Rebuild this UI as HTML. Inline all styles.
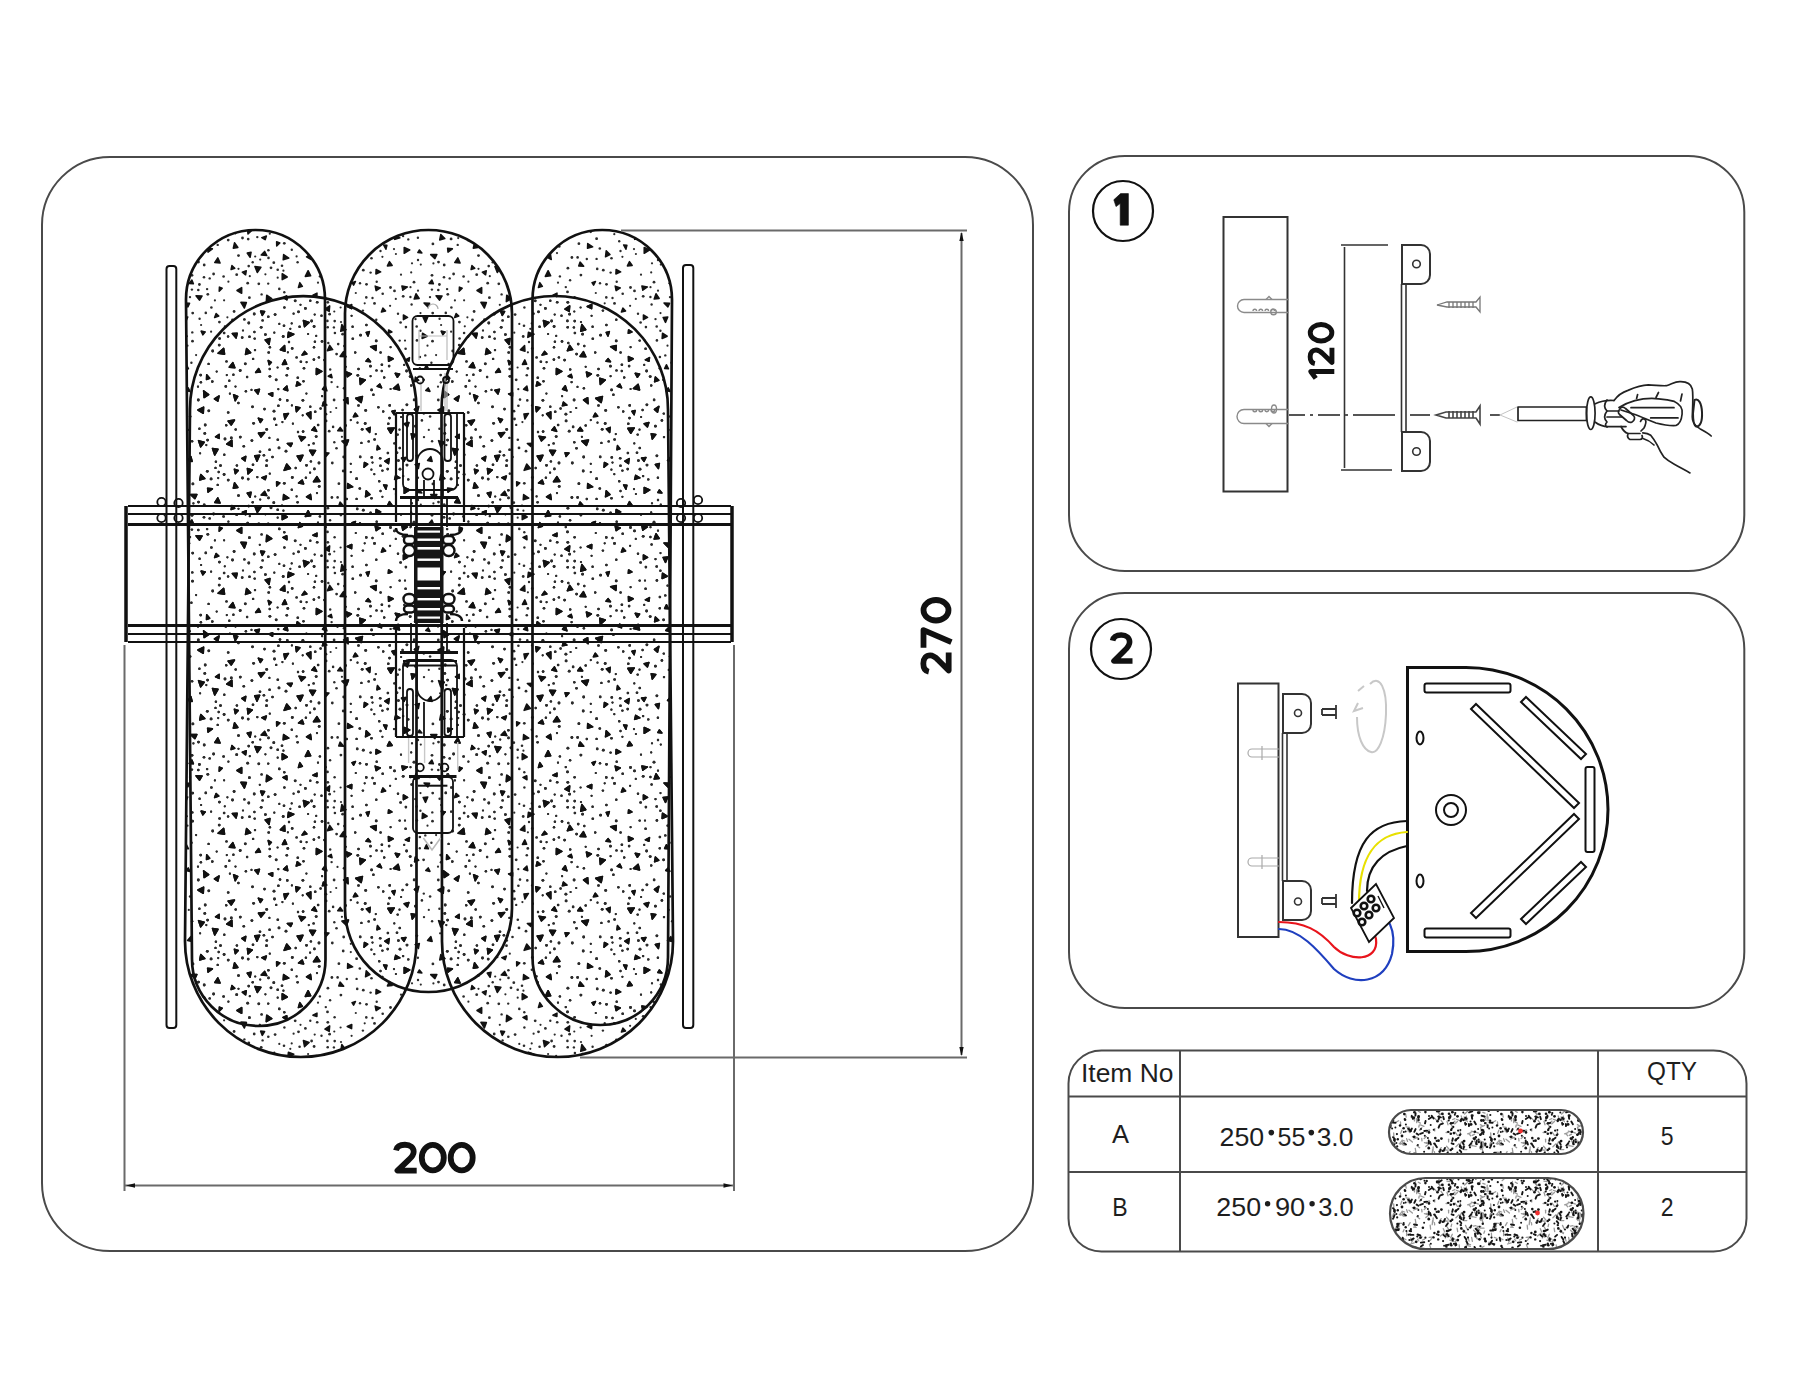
<!DOCTYPE html>
<html><head><meta charset="utf-8"><title>Assembly</title>
<style>
html,body{margin:0;padding:0;background:#fff;width:1800px;height:1400px;overflow:hidden}
svg{display:block}
text{font-family:"Liberation Sans",sans-serif}
</style></head><body>
<svg width="1800" height="1400" viewBox="0 0 1800 1400">
<defs>
<pattern id="sp" width="240" height="240" patternUnits="userSpaceOnUse"><g fill="#2b2b2b"><circle cx="85.9" cy="174.2" r="1.4"/><circle cx="87.9" cy="28.2" r="1.4"/><circle cx="170.2" cy="136.6" r="1.4"/><circle cx="220.5" cy="225.6" r="1.4"/><circle cx="219.2" cy="105.1" r="1.4"/><circle cx="192.7" cy="73.1" r="1.4"/><circle cx="76.2" cy="95.9" r="1.1"/><circle cx="224.3" cy="214.7" r="1.2"/><circle cx="59.6" cy="86.8" r="1.3"/><circle cx="87.7" cy="87.2" r="1.3"/><circle cx="94.9" cy="93" r="1.3"/><circle cx="46.8" cy="135.3" r="1.3"/><circle cx="200.7" cy="135.1" r="1.4"/><circle cx="42.4" cy="182.1" r="1.1"/><circle cx="211.4" cy="67.5" r="1.3"/><circle cx="5.3" cy="123.8" r="1.4"/><circle cx="130.6" cy="136.2" r="1.1"/><circle cx="20.2" cy="19.6" r="1.1"/><circle cx="176.9" cy="215.8" r="1.4"/><circle cx="34.5" cy="179" r="1.4"/><circle cx="155.8" cy="58.9" r="1.1"/><circle cx="52.9" cy="183.7" r="1.1"/><circle cx="125.2" cy="183.5" r="1.4"/><circle cx="94.7" cy="81.1" r="1.3"/><circle cx="118.5" cy="129" r="1.3"/><circle cx="219.6" cy="98.5" r="1.3"/><circle cx="198.3" cy="160" r="1.4"/><circle cx="204.8" cy="193.4" r="1.4"/><circle cx="200.1" cy="213.3" r="1.1"/><circle cx="229.9" cy="153.7" r="1.1"/><circle cx="125.7" cy="170.4" r="1.4"/><circle cx="192.5" cy="101.2" r="1.4"/><circle cx="100.9" cy="35.1" r="1.4"/><circle cx="177.9" cy="-2.2" r="1.2"/><circle cx="177.9" cy="237.8" r="1.2"/><circle cx="90.1" cy="40.2" r="1.2"/><circle cx="49" cy="102" r="1.2"/><circle cx="70.1" cy="232.7" r="1.1"/><circle cx="14.2" cy="74" r="1.4"/><circle cx="15" cy="110.1" r="1.2"/><circle cx="140.2" cy="218.2" r="1.3"/><circle cx="8.7" cy="26.1" r="1.3"/><circle cx="44.3" cy="52.2" r="1.2"/><circle cx="142.7" cy="53.8" r="1.3"/><circle cx="44.4" cy="67.5" r="1.2"/><circle cx="196.1" cy="115.1" r="1.1"/><circle cx="219.4" cy="82.1" r="1.4"/><circle cx="131.4" cy="229.7" r="1.1"/><circle cx="115.8" cy="53" r="1.1"/><circle cx="192.3" cy="92.4" r="1.2"/><circle cx="65.9" cy="-2.3" r="1.2"/><circle cx="65.9" cy="237.7" r="1.2"/><circle cx="89.2" cy="191.2" r="1.4"/><circle cx="171.2" cy="145.5" r="1.2"/><circle cx="37.7" cy="37.7" r="1.1"/><circle cx="77.2" cy="62.3" r="1.3"/><circle cx="208.6" cy="123.9" r="1.2"/><circle cx="64" cy="128.3" r="1.3"/><circle cx="36.2" cy="184.9" r="1.2"/><circle cx="0.3" cy="197.1" r="1.4"/><circle cx="240.3" cy="197.1" r="1.4"/><circle cx="19.8" cy="64.8" r="1.1"/><circle cx="172" cy="23.3" r="1.1"/><circle cx="115.2" cy="112.5" r="1.2"/><circle cx="229.3" cy="140.8" r="1.2"/><circle cx="205.8" cy="72.9" r="1.3"/><circle cx="198.3" cy="50" r="1.3"/><circle cx="130.4" cy="126.2" r="1.4"/><circle cx="37.8" cy="199.7" r="1.3"/><circle cx="74.7" cy="74.6" r="1.1"/><circle cx="25.4" cy="94.6" r="1.4"/><circle cx="110.8" cy="232.1" r="1.1"/><circle cx="3" cy="90.5" r="1.1"/><circle cx="243" cy="90.5" r="1.1"/><circle cx="170.4" cy="57" r="1.2"/><circle cx="2.5" cy="-2" r="1.4"/><circle cx="2.5" cy="238" r="1.4"/><circle cx="242.5" cy="-2" r="1.4"/><circle cx="242.5" cy="238" r="1.4"/><circle cx="191.9" cy="49.6" r="1.2"/><circle cx="90.2" cy="129.5" r="1.2"/><circle cx="71.6" cy="81" r="1.4"/><circle cx="94.1" cy="160" r="1.4"/><circle cx="175.5" cy="79.1" r="1.2"/><circle cx="226.8" cy="135.1" r="1.1"/><circle cx="198.5" cy="22.1" r="1.4"/><circle cx="33.8" cy="22.7" r="1.4"/><circle cx="162.6" cy="170" r="1.2"/><circle cx="43.2" cy="96.5" r="1.4"/><circle cx="200.9" cy="142.3" r="1.2"/><circle cx="21.6" cy="54.4" r="1.2"/><circle cx="37.7" cy="29.8" r="1.3"/><circle cx="97.6" cy="17.4" r="1.3"/><circle cx="184" cy="197.1" r="1.2"/><circle cx="98.9" cy="3.7" r="1.4"/><circle cx="96.2" cy="168" r="1.1"/><circle cx="235.7" cy="189.5" r="1.2"/><circle cx="4.4" cy="79.4" r="1.2"/><circle cx="82.1" cy="156.2" r="1.1"/><circle cx="122.2" cy="189.3" r="1.4"/><circle cx="198" cy="146.7" r="1.1"/><circle cx="216.7" cy="131.6" r="1.1"/><circle cx="84.6" cy="120.1" r="1.4"/><circle cx="34" cy="171.2" r="1.4"/><circle cx="150.5" cy="47.5" r="1.4"/><circle cx="138.4" cy="167.3" r="1.2"/><circle cx="79" cy="223" r="1.4"/><circle cx="29.8" cy="233.7" r="1.1"/><circle cx="32.5" cy="217" r="1.3"/><circle cx="134.5" cy="63.4" r="1.4"/><circle cx="218.2" cy="-1.9" r="1.1"/><circle cx="218.2" cy="238.1" r="1.1"/><circle cx="29.4" cy="197.9" r="1.1"/><circle cx="57.8" cy="137.7" r="1.3"/><circle cx="199.4" cy="44.5" r="1.4"/><circle cx="131.5" cy="18.3" r="1.3"/><circle cx="7.7" cy="43.2" r="1.4"/><circle cx="236.9" cy="225.5" r="1.2"/><circle cx="158" cy="73.8" r="1.2"/><circle cx="161.1" cy="177" r="1.1"/><circle cx="91.6" cy="142.1" r="1.2"/><circle cx="192.9" cy="3.9" r="1.4"/><circle cx="47.9" cy="112.3" r="1.1"/><circle cx="34.3" cy="92.7" r="1.1"/><circle cx="136.7" cy="41.7" r="1.2"/><circle cx="124.7" cy="63.3" r="1.1"/><circle cx="136.3" cy="79.7" r="1.2"/><circle cx="154" cy="9.1" r="1.1"/><circle cx="161" cy="34.7" r="1.1"/><circle cx="112.8" cy="98.7" r="1.3"/><circle cx="149.7" cy="165.4" r="1.3"/><circle cx="181.9" cy="180.4" r="1.3"/><circle cx="116.6" cy="-1.3" r="1.4"/><circle cx="116.6" cy="238.7" r="1.4"/><circle cx="98.2" cy="104.1" r="1.3"/><circle cx="103.7" cy="217" r="1.4"/><circle cx="77" cy="13.1" r="1.1"/><circle cx="180.5" cy="73.1" r="1.1"/><circle cx="142.4" cy="16.8" r="1.1"/><circle cx="29.9" cy="107.3" r="1.2"/><circle cx="120.6" cy="95.2" r="1.4"/><circle cx="12.5" cy="166.8" r="1.4"/><circle cx="126.3" cy="57.4" r="1.3"/><circle cx="56.6" cy="16.4" r="1.1"/><circle cx="218.7" cy="232" r="1.2"/><circle cx="159.8" cy="208" r="1.3"/><circle cx="29.7" cy="129" r="1.2"/><circle cx="228.2" cy="0.1" r="1.4"/><circle cx="228.2" cy="240.1" r="1.4"/><circle cx="58.5" cy="71.8" r="1.4"/><circle cx="140.5" cy="11" r="1.2"/><circle cx="73.9" cy="119.6" r="1.3"/><circle cx="224.1" cy="234.5" r="1.4"/><circle cx="70.9" cy="221.4" r="1.2"/><circle cx="201.1" cy="85" r="1.1"/><circle cx="211.1" cy="-1.1" r="1.4"/><circle cx="211.1" cy="238.9" r="1.4"/><circle cx="46" cy="211.2" r="1.4"/><circle cx="171.2" cy="32.4" r="1.1"/><circle cx="167" cy="225.1" r="1.4"/><circle cx="106.8" cy="19" r="1.2"/><circle cx="53.6" cy="73.7" r="1.1"/><circle cx="170.5" cy="47.2" r="1.1"/><circle cx="159.5" cy="189.7" r="1.1"/><circle cx="212.3" cy="141.6" r="1.3"/><circle cx="66.4" cy="153.6" r="1.1"/><circle cx="105.7" cy="126.8" r="1.1"/><circle cx="110.8" cy="180.1" r="1.1"/><circle cx="92.3" cy="223" r="1.4"/><circle cx="120" cy="43.2" r="1.2"/><circle cx="133.4" cy="154.8" r="1.3"/><circle cx="121.4" cy="202.9" r="1.2"/><circle cx="164.2" cy="124.9" r="1.1"/><circle cx="228.4" cy="41.7" r="1.1"/><circle cx="105.7" cy="185.5" r="1.2"/><circle cx="188.8" cy="189.9" r="1.1"/><circle cx="56.6" cy="117.4" r="1.2"/><circle cx="119.8" cy="8.5" r="1.3"/><circle cx="143.2" cy="171.5" r="1.2"/><circle cx="104.3" cy="106" r="1.2"/><circle cx="63.1" cy="191.6" r="1.3"/><circle cx="136.5" cy="130.4" r="1.2"/><circle cx="190" cy="57.1" r="1.2"/><circle cx="35.1" cy="74.6" r="1.4"/><circle cx="149.1" cy="126.1" r="1.3"/><circle cx="63.5" cy="141.3" r="1.2"/><circle cx="38.4" cy="165.8" r="1.3"/><circle cx="199.4" cy="188.8" r="1.2"/><circle cx="14.7" cy="98.6" r="1.2"/><circle cx="87.5" cy="51.9" r="1.4"/><circle cx="117.5" cy="182.7" r="1.1"/><circle cx="236.7" cy="34.7" r="1.4"/><circle cx="9.4" cy="57.7" r="1.4"/><circle cx="213.6" cy="34" r="1.4"/><circle cx="94.3" cy="71.5" r="1.1"/><circle cx="8.2" cy="-0.9" r="1.3"/><circle cx="8.2" cy="239.1" r="1.3"/><circle cx="55.2" cy="60.8" r="1.4"/><circle cx="132.5" cy="58" r="1.2"/><circle cx="110.8" cy="223.8" r="1.1"/><circle cx="87.4" cy="80.9" r="1.3"/><circle cx="235.5" cy="146.6" r="1.1"/><circle cx="9.5" cy="96.7" r="1.3"/><circle cx="155.9" cy="14" r="1.1"/><circle cx="212.7" cy="111" r="1.4"/><circle cx="94.3" cy="202.3" r="1.2"/><circle cx="51.7" cy="83.4" r="1.1"/><circle cx="39.3" cy="48.9" r="1.3"/><circle cx="74" cy="107.3" r="1.2"/><circle cx="-1.6" cy="163" r="1.3"/><circle cx="238.4" cy="163" r="1.3"/><circle cx="207.1" cy="49.1" r="1.2"/><circle cx="91.9" cy="17.5" r="1.4"/><circle cx="165.9" cy="87.1" r="1.3"/><circle cx="171.6" cy="64.5" r="1.2"/><circle cx="224.8" cy="86.3" r="1.1"/><circle cx="183.8" cy="173.6" r="1.2"/><circle cx="217.7" cy="4.9" r="1.2"/><circle cx="20" cy="211.8" r="1.3"/><circle cx="78.1" cy="185" r="1.3"/><circle cx="94.6" cy="57.2" r="1.2"/><circle cx="9.8" cy="36.2" r="1.1"/><circle cx="74.9" cy="101.8" r="1.2"/><circle cx="130.6" cy="32.6" r="1.2"/><circle cx="174.1" cy="159.9" r="1.3"/><circle cx="207.8" cy="54.3" r="1.4"/><circle cx="51.8" cy="9.8" r="1.2"/><circle cx="5.9" cy="151.3" r="1.2"/><circle cx="135.8" cy="194.1" r="1.1"/><circle cx="234.1" cy="71.5" r="1.4"/><circle cx="51.9" cy="165.4" r="1.1"/><circle cx="160" cy="229.2" r="1.4"/><circle cx="102.6" cy="94.2" r="1.4"/><circle cx="14.4" cy="92" r="1.2"/><circle cx="96.6" cy="114.1" r="1.4"/><circle cx="40" cy="159.6" r="1.3"/><circle cx="57.6" cy="22.3" r="1.2"/><circle cx="82" cy="101.4" r="1.3"/><circle cx="36.2" cy="139.8" r="1.4"/><circle cx="93.9" cy="87.4" r="1.2"/><circle cx="13.1" cy="118.9" r="1.2"/><circle cx="140.6" cy="112.5" r="1.2"/><circle cx="62.9" cy="160.3" r="1.4"/><circle cx="147.7" cy="229.1" r="1.3"/><circle cx="226.2" cy="185.2" r="1.2"/><circle cx="150.6" cy="149" r="1.1"/><circle cx="211.1" cy="91.7" r="1.1"/><circle cx="74.1" cy="86.5" r="1.4"/><circle cx="163.2" cy="56.3" r="1.4"/><circle cx="0.2" cy="130.5" r="1.4"/><circle cx="240.2" cy="130.5" r="1.4"/><circle cx="131.6" cy="149.9" r="1.4"/><circle cx="134.6" cy="199.5" r="1.3"/><circle cx="232.5" cy="80" r="1.4"/><circle cx="75.2" cy="171.8" r="1.3"/><circle cx="166.9" cy="164.8" r="1.4"/><circle cx="231.3" cy="197.9" r="1.4"/><circle cx="38.3" cy="149.2" r="1.1"/><circle cx="117.8" cy="135.3" r="1.4"/><circle cx="179.8" cy="128.2" r="1.2"/><circle cx="78" cy="42.7" r="1.1"/><circle cx="123.3" cy="30.2" r="1.4"/><circle cx="15.2" cy="16.5" r="1.1"/><circle cx="24.5" cy="169.1" r="1.3"/><circle cx="185.3" cy="115.4" r="1.2"/><circle cx="39" cy="207.9" r="1.4"/><circle cx="60.9" cy="121.8" r="1.3"/><circle cx="136.2" cy="100.9" r="1.4"/><circle cx="44.3" cy="3.3" r="1.4"/><circle cx="140.5" cy="225.8" r="1.3"/><circle cx="165" cy="100.6" r="1.1"/><circle cx="28.4" cy="10.2" r="1.3"/><circle cx="-1.5" cy="28.8" r="1.1"/><circle cx="238.5" cy="28.8" r="1.1"/><circle cx="79.2" cy="6.4" r="1.4"/><circle cx="89.6" cy="74.2" r="1.4"/><circle cx="192.1" cy="201.3" r="1.2"/><circle cx="68.1" cy="94" r="1.1"/><circle cx="148.3" cy="183.7" r="1.3"/><circle cx="166.6" cy="131" r="1.4"/><circle cx="192" cy="35.3" r="1.4"/><circle cx="42" cy="25.7" r="1.3"/><circle cx="224.1" cy="60.3" r="1.1"/><circle cx="117.2" cy="28.9" r="1.3"/><circle cx="150.1" cy="65.8" r="1.1"/><circle cx="87.8" cy="62.3" r="1.4"/><circle cx="18.8" cy="43.8" r="1.4"/><circle cx="66.5" cy="225.3" r="1.4"/><circle cx="174" cy="42.2" r="1.4"/><circle cx="28.5" cy="17.9" r="1.3"/><circle cx="86.1" cy="180.9" r="1.4"/><circle cx="190.1" cy="176.5" r="1.3"/><circle cx="228.1" cy="96.5" r="1.2"/><circle cx="157.7" cy="194.6" r="1.2"/><circle cx="22.6" cy="80.4" r="1.2"/><circle cx="178" cy="50.7" r="1.1"/><circle cx="25.4" cy="34.3" r="1.1"/><circle cx="103.2" cy="231" r="1.4"/><circle cx="227.4" cy="77.3" r="1.1"/><circle cx="44" cy="85.7" r="1.3"/><circle cx="154.5" cy="50.9" r="1.4"/><circle cx="147.9" cy="213" r="1.3"/><circle cx="165.6" cy="108.8" r="1.3"/><circle cx="159.7" cy="100.6" r="1.2"/><circle cx="144.2" cy="137.5" r="1.2"/><circle cx="150.6" cy="107.2" r="1.1"/><circle cx="223.6" cy="36.5" r="1.3"/><circle cx="96.5" cy="208.2" r="1.3"/><circle cx="225" cy="199" r="1.4"/><circle cx="191.4" cy="122.8" r="1.2"/><circle cx="-1.5" cy="15.6" r="1.4"/><circle cx="238.5" cy="15.6" r="1.4"/><circle cx="208.8" cy="170.8" r="1.4"/><circle cx="58" cy="192" r="1.2"/><circle cx="205.2" cy="185" r="1.4"/><circle cx="131.8" cy="217.4" r="1.3"/><circle cx="8.8" cy="83" r="1.4"/><circle cx="207.6" cy="200.1" r="1.4"/><circle cx="28.2" cy="43.6" r="1.2"/><circle cx="17.3" cy="-2.9" r="1.2"/><circle cx="17.3" cy="237.1" r="1.2"/><circle cx="47.3" cy="160.4" r="1.3"/><circle cx="81.5" cy="75.7" r="1.2"/><circle cx="43.4" cy="30.7" r="1.1"/><circle cx="31" cy="27.8" r="1.4"/><circle cx="225.8" cy="146.4" r="1.3"/><circle cx="85.8" cy="47.1" r="1.2"/><circle cx="176.7" cy="86.5" r="1.3"/><circle cx="101.9" cy="196.8" r="1.1"/><circle cx="68.8" cy="205.1" r="1.1"/><circle cx="224.1" cy="93" r="1.3"/><circle cx="100.6" cy="67.5" r="1.1"/><circle cx="70.3" cy="166.8" r="1.2"/><circle cx="214.9" cy="60.4" r="1.1"/><circle cx="101" cy="82" r="1.1"/><circle cx="141.8" cy="131" r="1.2"/><circle cx="23.9" cy="215.2" r="1.3"/><circle cx="21.2" cy="87.3" r="1.4"/><circle cx="160.6" cy="82.5" r="1.3"/><circle cx="215.5" cy="227.9" r="1.2"/><circle cx="112.6" cy="86.8" r="1.2"/><circle cx="111.6" cy="75.8" r="1.1"/><circle cx="168.3" cy="-0.6" r="1.2"/><circle cx="168.3" cy="239.4" r="1.2"/><circle cx="52.3" cy="-2.5" r="1.4"/><circle cx="52.3" cy="237.5" r="1.4"/><circle cx="50.3" cy="88.8" r="1.1"/><circle cx="178" cy="20" r="1.2"/><circle cx="149.5" cy="178.1" r="1.3"/><circle cx="175.4" cy="186.2" r="1.4"/><circle cx="28.7" cy="112.5" r="1.3"/><circle cx="3.8" cy="206.3" r="1.3"/><circle cx="26.7" cy="189.4" r="1.4"/><circle cx="29.9" cy="136.3" r="1.4"/><circle cx="122.9" cy="70.6" r="1.2"/><circle cx="52.2" cy="108.4" r="1.3"/><circle cx="204.2" cy="25" r="1.4"/><circle cx="204" cy="37.2" r="1.3"/><circle cx="97.5" cy="146.9" r="1.1"/><circle cx="207.3" cy="231.3" r="1.4"/><circle cx="37.6" cy="127.5" r="1.1"/><circle cx="154.3" cy="203.4" r="1.1"/><circle cx="26.8" cy="220.5" r="1.3"/><circle cx="78.9" cy="117.4" r="1.2"/><circle cx="157" cy="212.8" r="1.3"/><circle cx="120.2" cy="216.9" r="1.3"/><circle cx="88.3" cy="103" r="1.2"/><circle cx="11.9" cy="200.6" r="1.4"/><circle cx="179.9" cy="117" r="1.3"/><circle cx="2.2" cy="97.6" r="1.3"/><circle cx="242.2" cy="97.6" r="1.3"/><circle cx="142.4" cy="230.6" r="1.2"/><circle cx="12.7" cy="22.3" r="1.2"/><circle cx="60.5" cy="64.8" r="1.1"/><circle cx="199.6" cy="78.8" r="1.2"/><circle cx="76.2" cy="196.6" r="1.4"/><circle cx="13.6" cy="183.3" r="1.4"/><circle cx="11.5" cy="149.9" r="1.1"/><circle cx="132.5" cy="222.6" r="1.1"/><circle cx="139.2" cy="1.3" r="1.2"/><circle cx="139.2" cy="241.3" r="1.2"/><circle cx="176.9" cy="100.4" r="1.3"/><circle cx="163.1" cy="236.1" r="1.2"/><circle cx="187.5" cy="105.7" r="1.1"/><circle cx="180.4" cy="90.7" r="1.2"/><circle cx="28.3" cy="76.8" r="1.3"/><circle cx="74.4" cy="228.9" r="1.3"/><circle cx="128.7" cy="201.4" r="1.2"/><circle cx="29.6" cy="209.7" r="1.3"/><circle cx="118.5" cy="165.5" r="1.3"/><circle cx="93.1" cy="186.9" r="1.3"/><circle cx="39.3" cy="83.9" r="1.1"/><circle cx="141.9" cy="124.8" r="1.3"/><circle cx="62.7" cy="175.3" r="1.1"/><circle cx="90.6" cy="172" r="1.1"/><circle cx="103.9" cy="148.2" r="1.2"/><circle cx="134.3" cy="234.2" r="1.1"/><circle cx="180.8" cy="24.6" r="1.1"/><circle cx="73.6" cy="203.4" r="1.2"/><circle cx="79.9" cy="36.4" r="1.2"/><circle cx="193.4" cy="23.4" r="1.1"/><circle cx="47.8" cy="128.4" r="1.4"/><circle cx="183.6" cy="139.8" r="1.4"/><circle cx="215.9" cy="221.7" r="1.2"/><circle cx="228.2" cy="172.5" r="1.3"/><circle cx="70.3" cy="60.7" r="1.2"/><circle cx="65.4" cy="68.4" r="1.4"/><circle cx="66.6" cy="122.2" r="1.1"/><circle cx="209.7" cy="38.4" r="1.2"/><circle cx="206.3" cy="205.1" r="1.1"/><circle cx="158.4" cy="220.6" r="1.4"/><circle cx="13" cy="224.8" r="1.3"/><circle cx="226.5" cy="121.4" r="1.2"/><circle cx="55.7" cy="228" r="1.2"/><circle cx="26.5" cy="225.7" r="1.4"/><circle cx="7.1" cy="137" r="1.2"/><circle cx="126.5" cy="44.3" r="1.4"/><circle cx="126.4" cy="85" r="1.3"/><circle cx="116.6" cy="18.9" r="1.2"/><circle cx="233.4" cy="134.7" r="1.2"/><circle cx="80.6" cy="168.5" r="1.2"/></g><g fill="#111" stroke="#111" stroke-width="1.5" stroke-linejoin="round"><path d="M107.3 136.8l-0.9 -4.8l5 1.9z"/><path d="M218 113.2l5.7 -4.8l0.9 5.8z"/><path d="M120.3 144.5l-0.6 -6.3l5.6 1.8z"/><path d="M44.8 119.9l1.9 4.4l-4.3 0.1z"/><path d="M150.8 193.3l-3 -5l6.5 -0.4z"/><path d="M20.6 71.1l4 0.4l-2.3 3.9z"/><path d="M18.4 193.1l6.3 -0.5l-3.7 4.5z"/><path d="M164.2 13.3l-0 -5.9l5.6 2.5z"/><path d="M-5.6 229.3l3.9 1.2l-3 3.2z"/><path d="M234.4 229.3l3.9 1.2l-3 3.2z"/><path d="M153.4 148.6l4.7 -4.3l1.5 5.7z"/><path d="M36.7 5.9l-0.1 -4.2l3.2 1.2z"/><path d="M36.7 245.9l-0.1 -4.2l3.2 1.2z"/><path d="M130 14.5l-4.5 2.3l0.7 -6z"/><path d="M47 59.8l-4.1 -2.4l3.9 -1.6z"/><path d="M10.7 112.7l-5.2 1.7l1.1 -6z"/><path d="M250.7 112.7l-5.2 1.7l1.1 -6z"/><path d="M106.4 205.4l-4.5 -4.3l6.6 -1.2z"/><path d="M121.2 162.6l-5.5 -4.3l6.8 -1.9z"/><path d="M111.8 64.5l-0.2 4.2l-4.4 -2.2z"/><path d="M203.6 167.1l-0.3 6.2l-5.4 -3.3z"/><path d="M77 53.1l-0.1 3.5l-4 -1.4z"/><path d="M70.5 14.4l0.8 5.1l-4.8 -2.7z"/><path d="M182.5 93.2l4.7 3l-5.1 2.3z"/><path d="M202.9 94.9l-1.8 -3.8l4.2 0.8z"/><path d="M226.7 204l5.2 -3.8l0.2 6.2z"/><path d="M-3 50.5l4.7 -2.9l-0 5.7z"/><path d="M237 50.5l4.7 -2.9l-0 5.7z"/><path d="M-2.8 93.3l-1.1 4.8l-3.8 -4.6z"/><path d="M237.2 93.3l-1.1 4.8l-3.8 -4.6z"/><path d="M18 154l-3.2 -3.7l4.7 -1z"/><path d="M184 63l5.6 0.3l-1.7 3.7z"/><path d="M228.1 181l6.4 -1l-3.3 5z"/><path d="M31.8 58.7l-5.5 2.9l0.4 -6.4z"/><path d="M24.6 11.4l2.2 4.1l-5.6 -0.5z"/><path d="M189 43.4l2.9 -3.3l1.5 3.6z"/><path d="M135.9 110.5l-5.3 -3.8l5.7 -1.1z"/><path d="M44.9 179l-1 -5.1l4.6 -0.5z"/><path d="M32.6 156.3l-4 -2.4l4.1 -1.2z"/><path d="M29.1 104.4l-3.9 -4.5l4.8 -1.5z"/><path d="M72.6 215.4l-3 -5.1l6 0.1z"/><path d="M48.4 92.3l5.4 2l-6 3.1z"/><path d="M203.6 150.8l5.1 3.7l-4.6 3z"/><path d="M21.8 -2.4l4.6 -1.6l-1.2 3.7z"/><path d="M21.8 237.6l4.6 -1.6l-1.2 3.7z"/><path d="M187.8 76.9l-2.3 5.5l-2.4 -4.9z"/><path d="M57.2 141.7l3.4 2.8l-4.4 1.6z"/><path d="M89.7 105.4l3 4.2l-5.4 1.1z"/><path d="M139.9 208.8l-2.9 0.9l0.5 -4.1z"/><path d="M47.2 37l-5 2.6l-0 -5.9z"/><path d="M219.1 198.4l-3.6 -1.6l3.7 -2.5z"/><path d="M62.4 46.4l-4 1.1l1.4 -4.9z"/><path d="M175.3 224.5l4.1 -1.1l-1 5.1z"/><path d="M50.5 228.5l-6.4 1.9l2.6 -6.4z"/><path d="M98.7 26.1l1.4 -4l3.6 4.2z"/><path d="M7.4 228.5l4.9 1.5l-4.3 3.9z"/><path d="M60 167.7l-3.6 4l-0.7 -4.9z"/><path d="M61.4 201l-2.4 -4.8l6.4 1.1z"/><path d="M141.4 72l1.5 -3.9l2.7 2.9z"/><path d="M222.2 48.3l-3 3l0.2 -4.2z"/><path d="M4.4 68.1l-3.5 -5.8l5.5 0.3z"/><path d="M244.4 68.1l-3.5 -5.8l5.5 0.3z"/><path d="M135.9 34l0.2 -4.5l4.6 2.3z"/><path d="M85.1 212.8l3.9 0.3l-3 3.3z"/><path d="M-2.2 156.4l-2.6 4.4l-1.6 -6.1z"/><path d="M237.8 156.4l-2.6 4.4l-1.6 -6.1z"/><path d="M5.8 216.3l-0.7 4.6l-3.3 -2.4z"/><path d="M245.8 216.3l-0.7 4.6l-3.3 -2.4z"/><path d="M117.7 176.2l-4.3 0.6l1.9 -3.6z"/><path d="M76.9 -3.4l3 4.8l-6.5 0.4z"/><path d="M76.9 236.6l3 4.8l-6.5 0.4z"/><path d="M18.7 128.5l1.8 3.5l-4.9 0.4z"/><path d="M174.4 169.4l4.5 -3l-1.4 5.8z"/><path d="M187.5 220.4l3.4 -3.8l1.3 4.8z"/><path d="M82.4 165.8l1 -3.7l3.5 2.9z"/><path d="M97.7 190.8l2.5 -3.4l2.5 3.6z"/><path d="M209.7 138.2l-3.2 1.3l0.2 -4.8z"/><path d="M148.6 89.9l3.3 2.1l-3.6 1.2z"/><path d="M139.8 144.1l1.8 3.8l-4.4 -1.5z"/><path d="M178.8 140.3l-4.2 1.4l0.8 -4.7z"/><path d="M22.5 179.5l-2.2 3l-2 -4.4z"/><path d="M165.3 119.8l4.2 -2.2l-0.5 3.6z"/><path d="M148.5 223.7l-3.7 -2.5l4.4 -2.6z"/><path d="M63.7 3.9l-5.2 -0.9l3.7 -3z"/><path d="M63.7 243.9l-5.2 -0.9l3.7 -3z"/><path d="M217.9 161.2l-3.5 -2.4l4.7 -2.8z"/><path d="M198.5 200.6l5.7 1.6l-3.5 4.7z"/><path d="M148.4 116.6l4.8 2.2l-4.6 2.5z"/><path d="M207.6 8.2l4.8 0.6l-4.4 3.3z"/><path d="M76.7 191.4l-4.9 -1.3l2.6 -3.2z"/><path d="M6.3 30.7l-0.7 4.1l-3.3 -2.7z"/><path d="M246.3 30.7l-0.7 4.1l-3.3 -2.7z"/><path d="M112.7 6.9l-5.2 1.4l0.2 -4.8z"/><path d="M112.7 246.9l-5.2 1.4l0.2 -4.8z"/><path d="M196 55.8l6.1 0.1l-2.5 4.3z"/><path d="M167.4 47l-4.6 3.2l-0.9 -4.2z"/><path d="M112 42.6l3.5 -1.2l-1.9 3.8z"/><path d="M69.1 82.5l-4.6 4.2l-1.1 -6.2z"/><path d="M214.7 22.6l3.1 -4.7l2.3 5.2z"/><path d="M92.1 137.8l-3.9 -1.6l3 -1.9z"/><path d="M172.3 199.1l-1.1 -5.4l4.6 0.8z"/><path d="M155.2 170.4l-1.1 4.3l-2.2 -3.4z"/><path d="M129.7 192.4l-3.3 -3.5l3.8 -1.5z"/><path d="M190.7 14.6l6.2 -0.2l-2 4.2z"/><path d="M70.8 178.8l-4.3 -5l4.3 -1.9z"/><path d="M52.3 203.2l-1.6 3.3l-3.4 -3z"/><path d="M-7.2 122.6l2.1 5.2l-5.7 -0.6z"/><path d="M232.8 122.6l2.1 5.2l-5.7 -0.6z"/><path d="M136.1 50.7l-0.9 -4.6l5.1 1.8z"/><path d="M126 121.3l2.1 -2.7l2.4 3.2z"/><path d="M143.6 5l3.3 0.3l-1 3.9z"/><path d="M143.6 245l3.3 0.3l-1 3.9z"/><path d="M64.6 111.4l2.3 2.6l-4.8 1z"/><path d="M43.5 149.3l3.4 -3.3l0.9 4.7z"/><path d="M167.6 77.3l-4.2 2.3l-0 -4.6z"/><path d="M82.5 149.2l2.8 -3.5l1.7 5.2z"/><path d="M29.2 124.8l-1 -4.3l3.2 1.8z"/><path d="M216.1 73.5l2.7 2.6l-4.2 1.4z"/><path d="M161.5 218.1l4.5 -0.7l-2 4z"/><path d="M-5.2 28.2l-3.7 1.3l0.8 -3.9z"/><path d="M234.8 28.2l-3.7 1.3l0.8 -3.9z"/><path d="M43.2 19.7l0.4 -5.2l5.2 3.6z"/><path d="M199.7 -0.1l1.1 -5.4l4 4.1z"/><path d="M199.7 239.9l1.1 -5.4l4 4.1z"/><path d="M40.3 109.7l4.3 -4.2l0.4 5.7z"/><path d="M212.5 208.4l5.5 0.9l-3.3 5.7z"/><path d="M164.1 183.7l4.8 -1.2l-1.5 4.4z"/><path d="M128 96.1l-1.8 -3.6l3.2 -0.9z"/><path d="M-2.1 7.5l-4.6 0.7l1.2 -5.4z"/><path d="M-2.1 247.5l-4.6 0.7l1.2 -5.4z"/><path d="M237.9 7.5l-4.6 0.7l1.2 -5.4z"/><path d="M237.9 247.5l-4.6 0.7l1.2 -5.4z"/><path d="M63 215.3l-2.7 5.8l-3.1 -5.1z"/><path d="M84.9 69.2l4.8 -3.3l-0.5 5.5z"/><path d="M157.4 137.3l-2.2 -4l4.4 0.7z"/><path d="M181.9 13l-4.1 -0.4l1.6 -2.6z"/><path d="M19.7 215.3l-2.7 6l-2.3 -5.6z"/><path d="M103.4 111.6l2.5 5.2l-5.9 -0.4z"/><path d="M127.7 224.2l-3.7 3.1l0.4 -4.8z"/><path d="M107.7 157.7l0.4 6.1l-4.6 -3.9z"/><path d="M186.4 124.7l2.1 4.1l-3.9 -0.2z"/><path d="M174.2 59.1l1.8 -5.4l3.2 4.8z"/><path d="M185.7 150.5l2.5 -2.6l1.8 3.5z"/><path d="M10.1 17.3l-2.9 -4.2l3.9 -0.9z"/><path d="M149.5 21.6l2.7 3.8l-4.8 0.5z"/><path d="M20.9 27.3l-3.6 5.2l-2.4 -6.1z"/><path d="M159.9 -2.1l-5.3 1.5l1.1 -4.1z"/><path d="M159.9 237.9l-5.3 1.5l1.1 -4.1z"/><path d="M76.4 128.5l5.5 2.9l-5.6 3.1z"/><path d="M100.7 91.3l1.1 -6.8l4 5.2z"/><path d="M70.7 35.8l-5.4 0.6l2.8 -5.7z"/></g></pattern>
<pattern id="dt" width="97" height="71" patternUnits="userSpaceOnUse"><g stroke="#9a9a9a" stroke-width="1.3" stroke-linecap="round"><path d="M-0.1 53.7l-2.2 0.8"/><path d="M96.9 53.7l-2.2 0.8"/><path d="M75.7 30l-4.5 0.4"/><path d="M21 29.9l2.1 2.4"/><path d="M27.8 47.3l2.2 0.9"/><path d="M44.4 5.2l1.5 4"/><path d="M44.4 76.2l1.5 4"/><path d="M85.9 14l4.1 0.2"/><path d="M-3.8 42.5l2.4 1.1"/><path d="M93.2 42.5l2.4 1.1"/><path d="M89.3 -4.4l2.5 0.2"/><path d="M89.3 66.6l2.5 0.2"/><path d="M41.6 18.9l-2.1 2"/><path d="M75.2 10.8l-0.3 4.4"/><path d="M68.1 6.4l3.4 1.2"/><path d="M36.4 26.2l0.2 3.4"/><path d="M-3.3 17.1l-0.6 2.6"/><path d="M93.7 17.1l-0.6 2.6"/><path d="M52.9 51.9l2.9 1.3"/><path d="M68.5 0.6l-2.3 2"/><path d="M68.5 71.6l-2.3 2"/><path d="M48.9 43.3l-1.7 1.3"/><path d="M48.6 2.7l1 2.7"/><path d="M48.6 73.7l1 2.7"/><path d="M2.1 21.1l0.6 3.6"/><path d="M99.1 21.1l0.6 3.6"/><path d="M89.7 26.3l-0.4 3.8"/><path d="M90.9 -3.6l-2.8 0.1"/><path d="M90.9 67.4l-2.8 0.1"/><path d="M16.2 -4.8l3 0.8"/><path d="M16.2 66.2l3 0.8"/><path d="M71.4 37.5l1.5 4.1"/><path d="M29 39.2l-2 1.2"/><path d="M34 35.1l-0.5 2.5"/><path d="M44 4.2l2.7 0.8"/><path d="M44 75.2l2.7 0.8"/><path d="M13.9 -2.3l1.8 2"/><path d="M13.9 68.7l1.8 2"/><path d="M76 52.6l2.8 3"/><path d="M60.7 27.6l-1 2.4"/><path d="M25.5 62.2l0.8 4.2"/><path d="M17.2 9.7l3.8 0.6"/><path d="M54.4 0.7l4 0.6"/><path d="M54.4 71.7l4 0.6"/><path d="M48 61.9l3.4 0.4"/><path d="M11.4 51.2l-1.2 3.3"/><path d="M21.5 -3.6l2 0.7"/><path d="M21.5 67.4l2 0.7"/><path d="M66.4 6.6l3.1 0.7"/><path d="M62.9 63.3l-1.4 1.7"/><path d="M62.4 59.9l3.6 1.4"/><path d="M25.1 21.2l3.9 0"/><path d="M50 64l0.3 2.4"/><path d="M21 18.7l-2.5 0.4"/><path d="M8.6 25l3 0.8"/><path d="M60.3 46.2l2 1.2"/><path d="M47.6 48.8l0.6 3.4"/><path d="M88.5 10.3l2.2 2.4"/><path d="M52 63.9l-0.6 3.6"/><path d="M40.7 55.7l-2.4 1.3"/><path d="M10.5 18.4l1.8 3.8"/><path d="M25.7 44.7l-1.9 4"/><path d="M11.3 54.7l1.1 2"/><path d="M61.3 59.9l-0.5 2.1"/><path d="M-2.7 27.3l-1.6 3.5"/><path d="M94.3 27.3l-1.6 3.5"/><path d="M25.3 29l1.1 1.9"/><path d="M6.2 50.9l1.2 4"/><path d="M6.1 21.4l3.7 2.3"/><path d="M76.7 63.6l-0 2.3"/><path d="M40.4 16.1l3.4 0.3"/><path d="M28.1 7.7l-0.2 4.3"/><path d="M-5.2 33.1l3.7 1.2"/><path d="M91.8 33.1l3.7 1.2"/><path d="M11.1 38.2l4.3 1.2"/><path d="M52.6 31.1l2.2 2.5"/><path d="M-2.6 30.4l2.6 2"/><path d="M94.4 30.4l2.6 2"/><path d="M89.1 27.1l-1.8 3.9"/><path d="M31.6 57.6l-0.2 2.3"/><path d="M5.2 -4.3l0.3 3.1"/><path d="M5.2 66.7l0.3 3.1"/><path d="M102.2 -4.3l0.3 3.1"/><path d="M102.2 66.7l0.3 3.1"/><path d="M89 40.8l-0 2.7"/><path d="M72.2 18.2l0.4 3.9"/><path d="M58.7 9.5l3 2.2"/><path d="M70.7 7.3l-2.3 0"/><path d="M16.3 6.4l0.6 3.5"/><path d="M83.2 11.6l-1.3 1.8"/><path d="M56.3 17.9l0.9 1.9"/><path d="M69.9 8.7l-2.1 1.9"/><path d="M57.4 45.4l0.1 4.2"/><path d="M89.2 20l2.1 3.6"/><path d="M12.9 29.8l1.2 4.3"/><path d="M12.4 46.5l-2.8 2.6"/><path d="M0.1 -4l2.3 3.4"/><path d="M0.1 67l2.3 3.4"/><path d="M97.1 -4l2.3 3.4"/><path d="M97.1 67l2.3 3.4"/><path d="M64.1 29.9l-3.2 1.8"/><path d="M33 52l-0.1 3.8"/><path d="M59.6 56.5l2.8 1.6"/><path d="M0.1 56.1l-3.1 2.7"/><path d="M97.1 56.1l-3.1 2.7"/><path d="M4.2 38l0.2 2.3"/><path d="M101.2 38l0.2 2.3"/><path d="M19.6 -1.8l-2.3 1.2"/><path d="M19.6 69.2l-2.3 1.2"/><path d="M80.4 46.2l1.3 3.4"/><path d="M22.2 19.4l3.6 0.1"/><path d="M56.4 52.8l-0 3.1"/><path d="M29.7 52.2l1.4 3.2"/><path d="M73.5 31.6l-1.2 1.8"/><path d="M25.3 59.7l1.9 1"/><path d="M1.4 54.4l3 1"/><path d="M98.4 54.4l3 1"/><path d="M42.5 57l0.2 3.3"/><path d="M2.4 56.5l-2.7 2.4"/><path d="M99.4 56.5l-2.7 2.4"/><path d="M81 43.6l-2.6 3.2"/><path d="M59.9 1.4l-4.2 1.6"/><path d="M59.9 72.4l-4.2 1.6"/><path d="M19.5 4.7l1.1 2"/><path d="M19.5 75.7l1.1 2"/><path d="M35.8 6.3l1.5 1.3"/><path d="M41.6 21.3l-2 2.2"/><path d="M16.1 -3.3l-3.5 1.2"/><path d="M16.1 67.7l-3.5 1.2"/><path d="M21.1 28.6l0.5 3"/><path d="M2.6 32.4l-2.8 2.5"/><path d="M99.6 32.4l-2.8 2.5"/><path d="M83.4 48.5l-3.1 2.8"/><path d="M89 56.3l1 3.5"/><path d="M63.9 62.7l-1.9 2.4"/><path d="M18.5 23.2l2.6 2.6"/><path d="M74.6 13.6l-0.4 4.1"/><path d="M35.5 6.7l-0.9 2.7"/><path d="M14 20.4l2.4 0.1"/><path d="M41.3 7.5l3.4 0.1"/><path d="M-4.1 59.2l2.2 3.7"/><path d="M92.9 59.2l2.2 3.7"/><path d="M7.7 10.7l2.1 0"/><path d="M58.4 53.7l0.3 4"/><path d="M43.8 -5.8l-1.1 3.2"/><path d="M43.8 65.2l-1.1 3.2"/><path d="M16.6 30.3l0.8 4"/><path d="M22.3 20.9l-1.8 1.2"/><path d="M52.1 15.6l-1.7 3"/><path d="M9.1 51.8l0.8 2.7"/><path d="M83.1 55.3l2.1 3.1"/><path d="M12 36.8l3.5 0.9"/><path d="M88.9 45.2l3.3 0.4"/><path d="M45.5 31.5l2.4 1.2"/><path d="M43.6 5l-1.4 2.2"/><path d="M43.6 76l-1.4 2.2"/><path d="M28.2 6.4l2.5 3.5"/><path d="M28.3 6.8l2 3.9"/><path d="M8.5 24.3l2.9 2.3"/><path d="M44.8 7l-2.6 1.2"/><path d="M66.5 32.2l-2 0.8"/><path d="M22.1 20.3l2.7 3"/><path d="M48.7 24.6l-0.1 4.1"/><path d="M55.3 32.1l-1.7 3.1"/><path d="M39.3 30.3l2.8 1.2"/><path d="M85.3 21.7l1.4 3.2"/><path d="M57.3 12.5l0.6 3.8"/><path d="M4 7.7l-3.1 3"/><path d="M101 7.7l-3.1 3"/><path d="M6.5 5.8l-1.1 2.5"/><path d="M6.5 76.8l-1.1 2.5"/><path d="M63.7 2.4l0.3 2.4"/><path d="M63.7 73.4l0.3 2.4"/><path d="M32.2 49.2l-0.1 4.1"/><path d="M81.6 44l-2.2 1.1"/><path d="M46 22.7l-0.9 2.1"/><path d="M85.9 26.3l-3.4 2.7"/><path d="M-5.8 27.7l-4 2"/><path d="M91.2 27.7l-4 2"/><path d="M12.6 53.1l-2.1 2.4"/><path d="M27 12.3l1.2 4.2"/><path d="M39 18.1l-1.1 2.9"/><path d="M59.5 32.3l1.3 1.6"/><path d="M79.4 46.8l2.3 2.3"/><path d="M56.3 35.8l-3.8 1.2"/><path d="M29.7 24l-0.8 2.3"/><path d="M90.6 3.2l0 2.7"/><path d="M90.6 74.2l0 2.7"/><path d="M51 3.2l3.4 2.9"/><path d="M51 74.2l3.4 2.9"/><path d="M76.4 15.7l0.3 2.1"/><path d="M11.8 13.6l-2.8 0.1"/><path d="M24 4.6l4.2 1.5"/><path d="M24 75.6l4.2 1.5"/><path d="M71.8 -5.7l-3.4 2"/><path d="M71.8 65.3l-3.4 2"/><path d="M24.7 12l1.4 1.6"/><path d="M17 51.1l0.1 2"/><path d="M29.6 60.3l-3.4 1.7"/><path d="M71 64.7l-0.5 2.9"/><path d="M55.6 20.1l2.6 0.3"/><path d="M44.4 8.5l2.5 0.7"/><path d="M35.7 -3l0.2 4.1"/><path d="M35.7 68l0.2 4.1"/></g><g fill="#151515"><circle cx="60.4" cy="52.7" r="1.3"/><circle cx="91.4" cy="52.5" r="1.4"/><circle cx="2.8" cy="33.1" r="1.4"/><circle cx="99.8" cy="33.1" r="1.4"/><circle cx="63" cy="64" r="1"/><circle cx="45.5" cy="17.5" r="1.2"/><circle cx="55.7" cy="0.9" r="1.1"/><circle cx="55.7" cy="71.9" r="1.1"/><circle cx="27.1" cy="65.1" r="1.3"/><circle cx="15.5" cy="56.6" r="1"/><circle cx="59.9" cy="9" r="1"/><circle cx="84.5" cy="14.9" r="1.1"/><circle cx="-1.7" cy="61.9" r="1.1"/><circle cx="95.3" cy="61.9" r="1.1"/><circle cx="93.3" cy="38.3" r="1.3"/><circle cx="19.9" cy="66.8" r="1.3"/><circle cx="93.8" cy="63.5" r="1.1"/><circle cx="35" cy="11.8" r="1"/><circle cx="6.3" cy="21.4" r="1.3"/><circle cx="0.3" cy="48.1" r="1.1"/><circle cx="97.3" cy="48.1" r="1.1"/><circle cx="30.1" cy="58.1" r="1.2"/><circle cx="30.6" cy="34.2" r="1.3"/><circle cx="5.5" cy="-1.8" r="1"/><circle cx="5.5" cy="69.2" r="1"/><circle cx="72.7" cy="60" r="1"/><circle cx="76.4" cy="26" r="1.2"/><circle cx="0.9" cy="3.3" r="1"/><circle cx="97.9" cy="3.3" r="1"/><circle cx="92.7" cy="14" r="1.3"/><circle cx="90.2" cy="66.9" r="1.1"/><circle cx="34.4" cy="37.3" r="1.3"/><circle cx="10.5" cy="53.1" r="1.3"/><circle cx="83.4" cy="2.6" r="1.4"/><circle cx="83.4" cy="73.6" r="1.4"/><circle cx="8.8" cy="24.2" r="1.3"/><circle cx="89.1" cy="24.1" r="1.4"/><circle cx="52.9" cy="22.2" r="1.1"/><circle cx="17.2" cy="5.6" r="1"/><circle cx="66.8" cy="-0.2" r="1"/><circle cx="66.8" cy="70.8" r="1"/><circle cx="4.7" cy="-0.9" r="1.2"/><circle cx="4.7" cy="70.1" r="1.2"/><circle cx="39.4" cy="16.9" r="1.2"/><circle cx="80.2" cy="32.4" r="1.2"/><circle cx="5.4" cy="65" r="1"/><circle cx="47.9" cy="59.5" r="1"/><circle cx="71" cy="67.4" r="1.3"/><circle cx="76.4" cy="7.6" r="1.2"/><circle cx="14.5" cy="60" r="1.1"/><circle cx="44" cy="-0" r="1.4"/><circle cx="44" cy="71" r="1.4"/><circle cx="-2.3" cy="32.2" r="1.2"/><circle cx="94.7" cy="32.2" r="1.2"/><circle cx="70.8" cy="34" r="1.1"/><circle cx="39.2" cy="10.4" r="1.1"/><circle cx="-1.1" cy="-2.9" r="1.3"/><circle cx="-1.1" cy="68.1" r="1.3"/><circle cx="95.9" cy="-2.9" r="1.3"/><circle cx="95.9" cy="68.1" r="1.3"/><circle cx="48.4" cy="24" r="1"/><circle cx="26.4" cy="55.5" r="1.4"/><circle cx="35" cy="55.8" r="1.3"/><circle cx="67.4" cy="47.1" r="1.3"/><circle cx="35.3" cy="50" r="1.1"/><circle cx="47.1" cy="54.7" r="1.3"/><circle cx="28.5" cy="67.1" r="1.3"/><circle cx="56.3" cy="0.8" r="1.2"/><circle cx="56.3" cy="71.8" r="1.2"/><circle cx="24.3" cy="47.7" r="1.2"/><circle cx="79.2" cy="46" r="1.3"/><circle cx="33.7" cy="45.7" r="1.3"/><circle cx="80.3" cy="24.9" r="1.4"/><circle cx="84.4" cy="48.9" r="1.4"/><circle cx="92.8" cy="36.8" r="1.2"/><circle cx="16.1" cy="59.4" r="1.4"/><circle cx="46.3" cy="49.1" r="1.3"/><circle cx="70.8" cy="12.2" r="1.3"/><circle cx="56.3" cy="47.3" r="1.2"/><circle cx="60.5" cy="55" r="1.3"/><circle cx="69.9" cy="2" r="1"/><circle cx="69.9" cy="73" r="1"/><circle cx="42.8" cy="46.2" r="1.1"/><circle cx="66.5" cy="44.8" r="1"/><circle cx="45.7" cy="16.1" r="1"/><circle cx="13" cy="22.5" r="1"/><circle cx="18.8" cy="2.5" r="1.2"/><circle cx="18.8" cy="73.5" r="1.2"/><circle cx="36.9" cy="43.4" r="1.2"/><circle cx="23.1" cy="64.1" r="1"/><circle cx="39.3" cy="19.8" r="1.2"/><circle cx="11.2" cy="59" r="1.1"/><circle cx="3.5" cy="43.6" r="1"/><circle cx="52.9" cy="24.1" r="1.2"/><circle cx="93" cy="58.1" r="1.2"/><circle cx="78.9" cy="45.6" r="1.1"/><circle cx="13.8" cy="42.3" r="1.2"/><circle cx="92.8" cy="-2.3" r="1.3"/><circle cx="92.8" cy="68.7" r="1.3"/><circle cx="34.1" cy="63.4" r="1"/><circle cx="10.5" cy="40.2" r="1.3"/><circle cx="13.6" cy="44.7" r="1.4"/><circle cx="36.5" cy="30.6" r="1.1"/><circle cx="28.3" cy="-2" r="1.1"/><circle cx="28.3" cy="69" r="1.1"/><circle cx="93.2" cy="64.9" r="1.2"/><circle cx="25.2" cy="-1.4" r="1.2"/><circle cx="25.2" cy="69.6" r="1.2"/><circle cx="40.3" cy="22.7" r="1.4"/><circle cx="47.7" cy="20.3" r="1.2"/><circle cx="11.8" cy="44.1" r="1.2"/><circle cx="28.4" cy="55.5" r="1.4"/><circle cx="1.3" cy="37.8" r="1.1"/><circle cx="98.3" cy="37.8" r="1.1"/><circle cx="90.7" cy="55.5" r="1.1"/><circle cx="26" cy="11" r="1.4"/><circle cx="28.4" cy="43.2" r="1.2"/><circle cx="62.6" cy="42.9" r="1.3"/><circle cx="11.5" cy="54" r="1.1"/><circle cx="51.7" cy="23.9" r="1.1"/><circle cx="51.4" cy="33" r="1.1"/><circle cx="72.3" cy="41.9" r="1"/><circle cx="24.5" cy="32.3" r="1.4"/><circle cx="86.1" cy="38.7" r="1"/><circle cx="75.5" cy="30.4" r="1.2"/><circle cx="68.7" cy="44.9" r="1.2"/><circle cx="88.4" cy="27.4" r="1.1"/><circle cx="82.6" cy="13.9" r="1.1"/><circle cx="80.5" cy="4.7" r="1.4"/><circle cx="67.4" cy="30.7" r="1.1"/><circle cx="75.7" cy="64.7" r="1"/><circle cx="46.4" cy="39" r="1.2"/><circle cx="32.1" cy="10.9" r="1.2"/><circle cx="78.7" cy="4.9" r="1.1"/><circle cx="79.5" cy="56.2" r="1.3"/><circle cx="2.5" cy="51.3" r="1.4"/><circle cx="99.5" cy="51.3" r="1.4"/><circle cx="-0.2" cy="49.8" r="1"/><circle cx="96.8" cy="49.8" r="1"/><circle cx="81.7" cy="15.6" r="1.3"/><circle cx="92.4" cy="50.6" r="1"/><circle cx="28.4" cy="65.2" r="1"/><circle cx="59.2" cy="29.4" r="1"/><circle cx="60.4" cy="3.1" r="1"/><circle cx="36.8" cy="5.1" r="1"/><circle cx="55.8" cy="52.7" r="1.4"/><circle cx="13" cy="30.6" r="1.1"/><circle cx="58.2" cy="34.8" r="1.4"/><circle cx="36.3" cy="4" r="1.3"/><circle cx="14.7" cy="44.8" r="1.2"/><circle cx="88.3" cy="39.4" r="1.3"/><circle cx="25.5" cy="39.2" r="1.1"/><circle cx="72.8" cy="36.7" r="1"/><circle cx="22.7" cy="26.4" r="1.3"/><circle cx="17.4" cy="50.6" r="1.3"/><circle cx="8.3" cy="47.4" r="1"/><circle cx="12.1" cy="42.2" r="1.1"/><circle cx="85.1" cy="34.1" r="1.1"/><circle cx="77.3" cy="2.1" r="1.3"/><circle cx="77.3" cy="73.1" r="1.3"/><circle cx="5.2" cy="10.7" r="1.4"/><circle cx="66.1" cy="15.8" r="1"/><circle cx="-2.6" cy="47.2" r="1.4"/><circle cx="94.4" cy="47.2" r="1.4"/><circle cx="13.6" cy="44.4" r="1.1"/><circle cx="22.8" cy="23.7" r="1.3"/><circle cx="33.8" cy="27.4" r="1"/><circle cx="80.6" cy="46" r="1.4"/><circle cx="42" cy="60.5" r="1.2"/><circle cx="57.5" cy="40.7" r="1.3"/><circle cx="38.4" cy="6.9" r="1"/><circle cx="19.6" cy="2.8" r="1.4"/><circle cx="19.6" cy="73.8" r="1.4"/><circle cx="46.7" cy="54" r="1"/><circle cx="45.6" cy="63.2" r="1.3"/><circle cx="41.6" cy="33.1" r="1"/><circle cx="15" cy="11.3" r="1.1"/><circle cx="37.4" cy="62.5" r="1"/><circle cx="24.6" cy="19.7" r="1"/><circle cx="27.8" cy="16.7" r="1.2"/><circle cx="3.1" cy="65.6" r="1.1"/><circle cx="91" cy="48.8" r="1.3"/><circle cx="45.8" cy="67.1" r="1"/><circle cx="64.9" cy="20.7" r="1.3"/><circle cx="70.7" cy="11.6" r="1.1"/><circle cx="2.4" cy="16.4" r="1"/><circle cx="99.4" cy="16.4" r="1"/><circle cx="38.9" cy="-1.9" r="1.1"/><circle cx="38.9" cy="69.1" r="1.1"/><circle cx="30.2" cy="33.2" r="1.1"/><circle cx="71" cy="51" r="1"/><circle cx="23.3" cy="47.7" r="1.4"/><circle cx="62.6" cy="30.6" r="1.4"/><circle cx="0.6" cy="4.3" r="1.3"/><circle cx="97.6" cy="4.3" r="1.3"/><circle cx="39.8" cy="3.2" r="1.2"/><circle cx="-1" cy="36.8" r="1.1"/><circle cx="96" cy="36.8" r="1.1"/><circle cx="9.1" cy="5.1" r="1.4"/><circle cx="47.6" cy="66.4" r="1"/><circle cx="23.6" cy="3.6" r="1.1"/><circle cx="5.8" cy="18.1" r="1.2"/><circle cx="29.7" cy="3.6" r="1"/><circle cx="-2.8" cy="12.7" r="1.2"/><circle cx="94.2" cy="12.7" r="1.2"/><circle cx="39" cy="37.7" r="1"/><circle cx="30.4" cy="7.7" r="1.2"/><circle cx="89.4" cy="42.5" r="1.4"/><circle cx="20.8" cy="1.2" r="1.2"/><circle cx="20.8" cy="72.2" r="1.2"/><circle cx="47.2" cy="40.6" r="1.1"/><circle cx="60.6" cy="51.5" r="1.4"/><circle cx="29.8" cy="31.9" r="1.4"/><circle cx="21.7" cy="8.2" r="1.1"/><circle cx="8.5" cy="54.8" r="1.4"/><circle cx="30.3" cy="9.2" r="1"/><circle cx="23.8" cy="6" r="1.2"/></g><g stroke="#151515" stroke-width="1.9" stroke-linecap="round"><path d="M56 17.4l3 0.6"/><path d="M4.7 14.2l1.6 2"/><path d="M101.7 14.2l1.6 2"/><path d="M9.6 29.9l1.7 2.6"/><path d="M53.9 63.6l-1.5 2.8"/><path d="M55.7 31.4l-2.5 1.6"/><path d="M-4.4 51.7l-1.4 1.9"/><path d="M92.6 51.7l-1.4 1.9"/><path d="M78.8 27.2l1.9 0.8"/><path d="M16.4 18.6l-1.3 2.1"/><path d="M6.2 54.2l-0.4 2"/><path d="M4.9 9.2l1.4 3"/><path d="M101.9 9.2l1.4 3"/><path d="M-4.9 43.5l2 1.8"/><path d="M92.1 43.5l2 1.8"/><path d="M35.2 23.5l2.9 0.1"/><path d="M80.2 51.6l2.7 0.8"/><path d="M16.6 50.4l0.6 3.4"/><path d="M77.1 8.4l1.8 2.8"/><path d="M44.7 30.8l0.6 3.1"/><path d="M90.8 37.8l-2.9 0.3"/><path d="M10 57.8l0.5 2"/><path d="M-2.1 2.3l-0.7 2.6"/><path d="M-2.1 73.3l-0.7 2.6"/><path d="M94.9 2.3l-0.7 2.6"/><path d="M94.9 73.3l-0.7 2.6"/><path d="M85.5 27.9l1.9 1.5"/><path d="M19.5 39.9l1.4 2.8"/><path d="M23.4 25l2.5 2.4"/><path d="M81.5 60.3l-0.9 2.4"/><path d="M13.9 59l0.1 2.1"/><path d="M16.4 7l-2.1 2.6"/><path d="M19.3 56.6l1.6 2.6"/><path d="M83.7 44.2l-2.1 1.5"/><path d="M1 36.3l-0.6 2.2"/><path d="M98 36.3l-0.6 2.2"/><path d="M37.7 22.5l2.5 0.2"/><path d="M37.1 33.8l-1.5 2.1"/><path d="M-1.7 57.9l-3 0.7"/><path d="M95.3 57.9l-3 0.7"/><path d="M65 38.1l-2.1 1.5"/><path d="M57.6 48.2l-0.2 2.4"/><path d="M7.5 6.2l1.3 2.6"/><path d="M73.7 50.7l1.9 2.8"/><path d="M26.6 50.8l3.1 0.7"/><path d="M65 -3.1l-2.9 1"/><path d="M65 67.9l-2.9 1"/><path d="M81.3 52.4l-0.8 2.2"/><path d="M50.1 63.6l2.5 2.4"/><path d="M52.8 27.9l2.6 0"/><path d="M17.3 46.4l-3.2 1"/><path d="M59.5 27.5l2.9 1"/><path d="M53.7 50.8l1.3 3.1"/><path d="M20.6 21.7l2 2.2"/><path d="M87 11.9l-1.3 2.9"/><path d="M21.8 4.5l-0.7 3.2"/><path d="M21.8 75.5l-0.7 3.2"/><path d="M85.2 51.7l0.7 2.5"/><path d="M51.3 64.2l1.4 2"/><path d="M58.7 -2.4l1.7 1.1"/><path d="M58.7 68.6l1.7 1.1"/><path d="M11.2 39.9l-0.7 2.2"/><path d="M18.5 42.2l-1.3 2.7"/><path d="M70.7 4.4l0.2 3.2"/><path d="M70.7 75.4l0.2 3.2"/><path d="M-4.2 22.6l-2.6 1.3"/><path d="M92.8 22.6l-2.6 1.3"/><path d="M89.9 16.3l-1.9 2.7"/><path d="M46.2 7.2l1.8 1.3"/><path d="M9 10.8l-0.8 2"/><path d="M73.5 52.3l-2.7 1.7"/><path d="M69.2 65.6l-2.9 0.4"/><path d="M-3.4 7.3l2 0.7"/><path d="M93.6 7.3l2 0.7"/><path d="M20 26.6l0.4 3"/><path d="M72.1 5.9l0.8 2.7"/><path d="M36.4 8.3l-0.8 2.4"/><path d="M66.3 35.2l-3.4 0.4"/><path d="M7 53.9l-1.6 1.9"/><path d="M11.3 34l1.4 2.8"/><path d="M89.1 27.1l1.7 2.2"/><path d="M67.6 56l-0.6 2.4"/><path d="M32.7 60.2l-0.1 2.1"/><path d="M40.8 16.9l-1.1 1.8"/><path d="M26.3 6.8l0.2 3.5"/><path d="M52.5 27.4l-2.1 0.4"/><path d="M34.5 57.6l3.1 0.1"/><path d="M35 1.2l1.9 1.9"/><path d="M35 72.2l1.9 1.9"/><path d="M37.1 36.7l2.3 0.4"/><path d="M-2.5 31.4l0.2 2.1"/><path d="M94.5 31.4l0.2 2.1"/><path d="M27.1 -3.2l-1.5 2.3"/><path d="M27.1 67.8l-1.5 2.3"/><path d="M5.1 27.9l-2 1.7"/><path d="M57.6 64.1l-1.3 2.7"/><path d="M3.5 1.7l-2 1.7"/><path d="M3.5 72.7l-2 1.7"/><path d="M100.5 1.7l-2 1.7"/><path d="M100.5 72.7l-2 1.7"/><path d="M84.8 58.6l-2.5 0.7"/></g></pattern>
</defs>
<!-- ===== panels ===== -->
<g fill="none" stroke="#4a4a4a" stroke-width="2">
<rect x="42" y="157" width="991" height="1094" rx="68" ry="68"/>
<rect x="1069" y="156" width="675.3" height="415" rx="56" ry="56"/>
<rect x="1069" y="593" width="675.3" height="415" rx="56" ry="56"/>
</g>
<!-- ===== left drawing ===== -->
<g id="fig">
<g fill="url(#sp)" stroke="none"><path d="M186 299.5A69.49 69.49 0 0 1 325 299.5L325.5 959.25A66.74 66.74 0 0 1 192 959.25Z"/><path d="M345 313.5A83.49 83.49 0 0 1 512 313.5L512 908.5A83.49 83.49 0 0 1 345 908.5Z"/><path d="M532.5 299.75A69.74 69.74 0 0 1 672 299.75L668 957.25A67.74 67.74 0 0 1 532.5 957.25Z"/><path d="M190 409.25A113.24 113.24 0 0 1 416.5 409.25L416.5 941.25A115.74 115.74 0 0 1 185 941.25Z"/><path d="M441.5 409.25A113.24 113.24 0 0 1 668 409.25L673 941.5A115.49 115.49 0 0 1 442 941.5Z"/></g>
<g fill="none" stroke="#111" stroke-width="2.7"><path d="M186 299.5A69.49 69.49 0 0 1 325 299.5L325.5 959.25A66.74 66.74 0 0 1 192 959.25Z"/><path d="M345 313.5A83.49 83.49 0 0 1 512 313.5L512 908.5A83.49 83.49 0 0 1 345 908.5Z"/><path d="M532.5 299.75A69.74 69.74 0 0 1 672 299.75L668 957.25A67.74 67.74 0 0 1 532.5 957.25Z"/><path d="M190 409.25A113.24 113.24 0 0 1 416.5 409.25L416.5 941.25A115.74 115.74 0 0 1 185 941.25Z"/><path d="M441.5 409.25A113.24 113.24 0 0 1 668 409.25L673 941.5A115.49 115.49 0 0 1 442 941.5Z"/></g>
<!-- posts -->
<g fill="none" stroke="#111" stroke-width="2">
<rect x="166.5" y="266" width="9.8" height="762" rx="3"/>
<rect x="683" y="265" width="10.3" height="763" rx="3"/>
</g>
<!-- crossbar -->
<g fill="none" stroke="#111">
<path d="M128 506H731M128 514H731M128 634H731M128 642H731" stroke-width="2"/>
<path d="M128 524.5H731M128 625.5H731" stroke-width="3.2"/>
<path d="M126 506V642M732 506V642" stroke-width="3.5"/>
</g>
<g fill="none" stroke="#111" stroke-width="1.8">
<circle cx="161.5" cy="502" r="4.2"/><circle cx="178.5" cy="503" r="4.2"/>
<circle cx="161.5" cy="518" r="4.2"/><circle cx="178.5" cy="518" r="4.2"/>
<circle cx="681" cy="503" r="4.2"/><circle cx="698" cy="500" r="4.2"/>
<circle cx="681" cy="518" r="4.2"/><circle cx="698" cy="518" r="4.2"/>
</g>
<!-- central socket assembly -->
<g fill="none" stroke="#111" stroke-width="1.8">
<rect x="412.5" y="316" width="41" height="49" rx="5"/>
<path d="M413 369H453" stroke-width="2.2"/>
<path d="M428 309a5 5 0 0 1 10 0" stroke="#aaa" stroke-width="1.2"/>
<path d="M419 330v30M447 330v30M419 336H447" stroke="#bbb" stroke-width="1.2"/>
<path d="M421 381v30M447 381v30M445 373v38" stroke="#bbb" stroke-width="1.2"/>
<circle cx="420" cy="380" r="3.5"/><circle cx="446" cy="380" r="3"/>
<path d="M396 413H464M396 413V522M464 413V522" stroke-width="2.2"/>
<path d="M403 413V484a6 6 0 0 0 6 6H451a6 6 0 0 0 6-6V413"/>
<rect x="407" y="414" width="6" height="47" rx="3"/>
<rect x="444.5" y="414" width="6.5" height="47" rx="3"/>
<path d="M417 462a13 13 0 0 1 26 0"/>
<circle cx="428" cy="474" r="5.5"/>
<path d="M417 462V497M443 462V497M424 480v17M434 480v17"/>
<path d="M400 497.5H458" stroke-width="3"/>
<path d="M411 498V527M447 498V527"/>
<!-- threaded core -->
<path d="M396 528c0 5 6 7 12 7M462 528c0 5 -6 7 -12 7M396 621c0 -5 6 -7 12 -7M462 621c0 -5 -6 -7 -12 -7" stroke-width="2.4"/>
<rect x="414" y="527" width="29.5" height="96" fill="#151515" stroke="none"/>
<g fill="#fff" stroke="none">
<rect x="417.5" y="530.5" width="22.5" height="2.2"/>
<rect x="417.5" y="538.5" width="22.5" height="2.4"/>
<rect x="417.5" y="547" width="22.5" height="2.6"/>
<rect x="417.5" y="558.5" width="22.5" height="2.4"/>
<rect x="417.5" y="567.5" width="22.5" height="13"/>
<rect x="417.5" y="587" width="22.5" height="2.4"/>
<rect x="417.5" y="598" width="22.5" height="2.4"/>
<rect x="417.5" y="608" width="22.5" height="2.4"/>
<rect x="417.5" y="616.5" width="22.5" height="2.2"/>
</g>
<g fill="#fff" stroke="#111" stroke-width="2.4">
<rect x="404" y="536" width="11" height="8" rx="3.5"/><rect x="443" y="536" width="11" height="8" rx="3.5"/>
<rect x="403.5" y="545" width="11.5" height="11" rx="5.5"/><rect x="443" y="545" width="11.5" height="11" rx="5.5"/>
<rect x="403.5" y="594" width="11.5" height="10" rx="5"/><rect x="443" y="594" width="11.5" height="10" rx="5"/>
<rect x="404" y="605.5" width="11" height="7" rx="3.5"/><rect x="443" y="605.5" width="11" height="7" rx="3.5"/>
</g>
<!-- lower socket (mirror) -->
<path d="M396 737H464M396 628V737M464 628V737" stroke-width="2.2"/>
<path d="M403 737V666a6 6 0 0 1 6-6H451a6 6 0 0 1 6 6V737"/>
<path d="M400 652.5H458" stroke-width="3"/>
<rect x="407" y="689" width="6" height="47" rx="3"/>
<rect x="444.5" y="689" width="6.5" height="47" rx="3"/>
<path d="M417 688a13 13 0 0 0 26 0"/>
<path d="M424 702V736M403 661H457M403 665.5H457"/>
<path d="M417 688V653M443 688V653"/>
<path d="M411 652V623M447 652V623"/>
<rect x="413" y="777" width="40" height="56" rx="5"/>
<path d="M409 776.5H456.5" stroke-width="3"/><path d="M418 785.7H447.4" stroke-width="2"/>
<path d="M408.6 738v25M424.6 738v25M457.7 742v28" stroke="#c8c8c8" stroke-width="1.4"/>
<circle cx="420" cy="767.5" r="3.8"/><circle cx="444.6" cy="767.5" r="3.8"/>
<path d="M423.4 838L432 850L440.6 838" stroke="#bbb" stroke-width="1.6"/>
</g>
</g>
<!-- ===== dimensions ===== -->
<g fill="none" stroke="#6a6a6a" stroke-width="2">
<path d="M621 230.5H967M580 1057.5H967M961.5 233V1055"/>
<path d="M124.5 645V1191M734 645V1191M124.5 1185.5H734"/>
</g>
<g fill="#111">
<path d="M961.5 232l-2.2 9h4.4z"/><path d="M961.5 1056l-2.2 -9h4.4z"/>
<path d="M126 1185.5l9 -2.2v4.4z"/><path d="M732.5 1185.5l-9 -2.2v4.4z"/>
</g>
<path transform="translate(951.4 674.3) rotate(-90)" d="M2.51 -22.61C3.47 -26.9 6.56 -28.07 10.8 -28.07C16.01 -28.07 18.9 -25.15 18.9 -21.25C18.9 -18.13 17.17 -15.98 14.27 -13.26L3.86 -2.73L21.7 -2.73M26.6 -27.9H44.21L32.21 0M53.8 -15.4A10.25 12.5 0 1 1 74.3 -15.4A10.25 12.5 0 1 1 53.8 -15.4Z" fill="none" stroke="#111" stroke-width="5.8" stroke-linejoin="round"/>
<path transform="translate(0 1173.3)" d="M396 -22.98C397.04 -27.34 400.37 -28.53 404.95 -28.53C410.56 -28.53 413.68 -25.56 413.68 -21.59C413.68 -18.42 411.81 -16.24 408.69 -13.47L397.46 -2.77L416.7 -2.77M421.8 -15.65A11 12.75 0 1 1 443.8 -15.65A11 12.75 0 1 1 421.8 -15.65ZM450.7 -15.65A11 12.75 0 1 1 472.7 -15.65A11 12.75 0 1 1 450.7 -15.65Z" fill="none" stroke="#111" stroke-width="5.8" stroke-linejoin="round"/>

<g>
<circle cx="1123" cy="211" r="30" fill="none" stroke="#111" stroke-width="2.2"/>
<path d="M1113.8 199.8L1120.6 193.6H1128.4V225.2H1120.2V203.6L1116 206.6Z" fill="#111" stroke="#111" stroke-width="0.6" stroke-linejoin="round"/>
<rect x="1223.5" y="217" width="64" height="274.5" fill="none" stroke="#333" stroke-width="2"/>
<g fill="none" stroke="#8a8a8a" stroke-width="1.4">
<path d="M1289 299.5H1244a6.5 6.5 0 0 0 0 13H1289"/>
<path d="M1289 409.5H1244a7 7 0 0 0 0 14H1289"/>
<path d="M1253 311a1.8 1.8 0 0 1 3.6 0M1259 311a1.8 1.8 0 0 1 3.6 0M1265 311a1.8 1.8 0 0 1 3.6 0M1271 311a1.8 1.8 0 0 1 3.6 0"/>
<circle cx="1273.5" cy="312" r="2.8"/><path d="M1266 299.5l3 -3l3 3"/>
<path d="M1253 410a1.8 1.8 0 0 0 3.6 0M1259 410a1.8 1.8 0 0 0 3.6 0M1265 410a1.8 1.8 0 0 0 3.6 0M1271 410a1.8 1.8 0 0 0 3.6 0"/>
<ellipse cx="1274" cy="409" rx="2.5" ry="4"/><path d="M1266 423.5l3 3l3 -3"/>
</g>
<g fill="none" stroke="#333" stroke-width="1.6">
<path d="M1341 245H1388M1341 470H1392M1344.5 247V468"/>
<path d="M1402 245H1421a9 9 0 0 1 9 9V275a9 9 0 0 1 -9 9H1402z" stroke-width="2"/>
<path d="M1402 432H1421a9 9 0 0 1 9 9V462a9 9 0 0 1 -9 9H1402z" stroke-width="2"/>
<path d="M1401.5 284V432M1406 284V432" stroke-width="1.6"/>
<circle cx="1416.5" cy="264" r="3.8"/><circle cx="1416.5" cy="451.5" r="3.8"/>
</g>
<path transform="translate(1334.3 380.4) rotate(-90)" d="M2.06 -18.55L8.95 -23.56V0M16.87 -19.46C17.66 -23.15 20.21 -24.15 23.71 -24.15C28.01 -24.15 30.39 -21.64 30.39 -18.28C30.39 -15.6 28.96 -13.75 26.57 -11.41L17.98 -2.35L32.7 -2.35M39.45 -13.25A8.25 10.8 0 1 1 55.95 -13.25A8.25 10.8 0 1 1 39.45 -13.25Z" fill="none" stroke="#111" stroke-width="4.9" stroke-linejoin="round"/>
<g fill="none" stroke="#777" stroke-width="1.3">
<path d="M1437 305l10 -3H1476l4 -5V312l-4 -5H1447z"/>
<path d="M1449 302v6M1453 302v6M1457 302v6M1461 302v6M1465 302v6M1469 302v6M1473 302v6"/>
</g>
<g fill="none" stroke="#444" stroke-width="1.6">
<path d="M1436 415l10 -3H1476l4 -6V424l-4 -6H1446z"/>
<path d="M1449 411v7M1453 411v7M1457 411v7M1461 411v7M1465 411v7M1469 411v7M1473 411v7"/>
</g>
<path d="M1289 415H1305M1310 415H1313M1318 415H1340M1345 415H1348M1353 415H1395M1410 415H1430M1490 415H1500" stroke="#555" stroke-width="1.8" fill="none"/>
<g fill="none" stroke="#222" stroke-width="1.7" stroke-linecap="round" stroke-linejoin="round">
<path d="M1500 415l17 -8M1500 415l17 7" stroke="#c4c4c4" stroke-width="1"/>
<path d="M1518 407H1586.5V420.5H1518z"/>
<ellipse cx="1590.8" cy="413.2" rx="4.3" ry="16.3"/>
<path d="M1595.3 403.8C1601 401 1607 400 1614 400.5M1595.3 422.2C1599 425 1603 426.5 1608 426.6H1626"/>
<path d="M1607 400c-3 4 -3 8 0 11c-3 4 -3 8 0 11c-2 2 -2 4 0 5"/>
<path d="M1607 411H1619M1607 417H1622"/>
<path d="M1614 400.6C1618 395 1623 392 1628 390.4C1638 386 1644 385 1648.3 384.9C1655 385 1660 386 1666.4 385.7C1672 384 1675 381.5 1680 381.7C1686 381.5 1691 384 1692.3 389C1693.5 395 1692.5 410 1692.3 417C1692 422 1694 425 1700.2 428.9C1704 431 1708 433 1711.2 436"/>
<path d="M1694.5 400c4 -2 7 3 7.5 12c0.5 10 -2 15 -6 14.5c-3 -2 -3 -8 -3 -13z" stroke-width="2"/>
<path d="M1619 407.5C1630 401 1645 397.5 1658.6 398.8C1666 399.5 1671 400.5 1674.3 401.4C1680 404 1683 409 1682.1 414C1681.5 420 1680 424 1676 425.5C1668 426 1662 424.5 1656 423C1648 420 1642 417 1635 414.5L1621 410"/>
<path d="M1631 407.7H1674M1650.7 417.9H1678"/>
<path d="M1636.6 398.5l1 -4M1656 397.5l2.5 -5M1680.5 401l1.5 -7"/>
<path d="M1619.5 409.5c1.5 -3 4 -3 6 -1l8 7c2 2 1 5 -1.5 6.5c-2 1 -4 0 -5.5 -1.5l-7 -6c-1.5 -1.5 -1.5 -3.5 0 -5z"/>
<path d="M1640.5 421.5c1 -3 3.5 -3.5 5 -1.5c1 2 0 5 -1.5 8l-3 3"/>
<path d="M1621 426.5c2 4 4 6 7 7c-1 3 0 5 2 6h10c2 0 3 -2 2 -4"/>
<path d="M1628 433.5h12"/>
<path d="M1642.8 432.8C1646 433 1649 434 1650.7 435.2C1653 438 1655 441 1657 444.6C1659 449 1661 453 1664 457.2C1667 460 1670 462 1674.3 464.3C1680 467.5 1685 470 1690 472.9"/>
<path d="M1643 438.5C1648 440 1651 442 1654 445"/>
</g>
</g>

<g>
<circle cx="1121" cy="649" r="30" fill="none" stroke="#111" stroke-width="2.2"/>
<path d="M1112.6 640.6C1113.6 636.2 1116.8 635 1121.2 635C1126.6 635 1129.6 638 1129.6 642C1129.6 645.2 1127.8 647.4 1124.8 650.2L1114 661H1132.5" fill="none" stroke="#111" stroke-width="5.6" stroke-linejoin="round"/>
<rect x="1238" y="683.5" width="40.5" height="253.5" fill="none" stroke="#333" stroke-width="2"/>
<g fill="none" stroke="#aaa" stroke-width="1.2">
<path d="M1279 749H1252a4 4 0 0 0 0 8H1279M1262 746v14"/>
<path d="M1279 858H1252a4 4 0 0 0 0 8H1279M1262 855v14"/>
</g>
<g fill="none" stroke="#333" stroke-width="2">
<path d="M1283 694H1302a9 9 0 0 1 9 9V724a9 9 0 0 1 -9 9H1283z"/>
<path d="M1283 881H1302a9 9 0 0 1 9 9V911a9 9 0 0 1 -9 9H1283z"/>
<path d="M1282.5 733V881M1287 733V881" stroke-width="1.6"/>
<circle cx="1298" cy="713" r="3.5" stroke-width="1.6"/><circle cx="1298" cy="901.5" r="3.5" stroke-width="1.6"/>
<path d="M1322 709H1336M1322 715H1336M1322 709V715M1336 705V719" stroke-width="1.8"/>
<path d="M1322 898H1336M1322 904H1336M1322 898V904M1336 894V908" stroke-width="1.8"/>
</g>
<g fill="none" stroke="#c8c8c8" stroke-width="2">
<path d="M1370 684c10 -10 17 5 16 30c-1 25 -8 40 -15 38c-8 -2 -14 -15 -14 -35"/>
<path d="M1358 703l-4 8l9 -3"/>
<path d="M1364 686l-6 5"/>
</g>
<path d="M1407.5 667.5H1466A142 142 0 0 1 1466 951.5H1407.5Z" fill="none" stroke="#111" stroke-width="3"/>
<g fill="none" stroke="#111" stroke-width="2">
<rect x="1424.5" y="683.5" width="86" height="9" rx="2"/>
<rect x="1424.5" y="928.5" width="86" height="9" rx="2"/>
<rect x="1585.5" y="767" width="9" height="85" rx="2"/>
<path d="M1526 697l60 57l-5 5l-60 -57z"/>
<path d="M1476 704l103 99l-5 5l-103 -99z"/>
<path d="M1476 918l103 -99l-5 -5l-103 99z"/>
<path d="M1526 924l60 -57l-5 -5l-60 57z"/>
<circle cx="1451" cy="810" r="15"/><circle cx="1451" cy="810" r="7"/>
<ellipse cx="1420" cy="738" rx="3.5" ry="6.5"/><ellipse cx="1420" cy="881" rx="3.5" ry="6.5"/>
</g>
<g fill="none" stroke-width="2.2" stroke-linecap="round">
<path d="M1407 821c-35 1 -55 20 -55 82" stroke="#111"/>
<path d="M1407 832c-30 2 -48 22 -48 71" stroke="#e8e000"/>
<path d="M1407 846c-25 5 -40 20 -40 45" stroke="#111"/>
<path d="M1279 922c25 0 40 8 55 25c15 15 45 15 42 -8c-1 -6 -5 -9 -10 -11" stroke="#e8141c"/>
<path d="M1279 929c20 0 38 20 55 40c20 18 50 15 58 -15c5 -25 -5 -40 -16 -42" stroke="#1f3fbf"/>
</g>
<g fill="none" stroke="#111" stroke-width="1.8">
<path d="M1351 908l25 -24l18 34l-25 24z" fill="#fff"/>
<g fill="#fff" stroke="#111" stroke-width="2.6">
<circle cx="1357" cy="913" r="3.3"/><circle cx="1364" cy="906" r="3.3"/><circle cx="1371" cy="899" r="3.3"/>
<circle cx="1362" cy="922" r="3.3"/><circle cx="1369" cy="915" r="3.3"/><circle cx="1376" cy="908" r="3.3"/>
</g>
<path d="M1378 896l6 12" stroke-width="1.4"/>
</g>
</g>

<g>
<rect x="1068.5" y="1050.5" width="678" height="201" rx="33" ry="33" fill="none" stroke="#4a4a4a" stroke-width="2"/>
<path d="M1069 1096.5H1746M1069 1172H1746M1180 1051V1251M1598 1051V1251" fill="none" stroke="#4a4a4a" stroke-width="2"/>
<g font-size="25" fill="#1e1e1e">
<text x="1081" y="1082.3" textLength="92.5" lengthAdjust="spacingAndGlyphs">Item No</text>
<text x="1647" y="1080" textLength="50" lengthAdjust="spacingAndGlyphs">QTY</text>
</g>
<g font-size="26" fill="#1e1e1e">
<text x="1112" y="1143" textLength="17" lengthAdjust="spacingAndGlyphs">A</text>
<text x="1219.6" y="1146.2" textLength="44.6" lengthAdjust="spacingAndGlyphs">250</text>
<text x="1277.5" y="1146.2" textLength="27.8" lengthAdjust="spacingAndGlyphs">55</text>
<text x="1316.7" y="1146.2" textLength="36.6" lengthAdjust="spacingAndGlyphs">3.0</text>
<circle cx="1271.3" cy="1132.6" r="2.8"/><circle cx="1311.3" cy="1132.6" r="2.8"/>
<text x="1660.8" y="1144.5" textLength="12.8" lengthAdjust="spacingAndGlyphs">5</text>
<text x="1112.3" y="1215.5" textLength="15.4" lengthAdjust="spacingAndGlyphs">B</text>
<text x="1216.3" y="1216.1" textLength="44.8" lengthAdjust="spacingAndGlyphs">250</text>
<text x="1274.9" y="1216.1" textLength="30.3" lengthAdjust="spacingAndGlyphs">90</text>
<text x="1318.2" y="1216.1" textLength="35.4" lengthAdjust="spacingAndGlyphs">3.0</text>
<circle cx="1267.6" cy="1203.8" r="2.7"/><circle cx="1312.1" cy="1203.8" r="2.7"/>
<text x="1660.8" y="1216.3" textLength="12.8" lengthAdjust="spacingAndGlyphs">2</text>
</g>
<rect x="1389" y="1110" width="194" height="44" rx="22" fill="url(#dt)" stroke="#4a4a4a" stroke-width="2.2"/>
<rect x="1390" y="1178" width="193.5" height="71" rx="35.5" fill="url(#dt)" stroke="#4a4a4a" stroke-width="2.2"/>
<circle cx="1520.5" cy="1131" r="2.4" fill="#f03030"/>
<circle cx="1537.5" cy="1213" r="2.4" fill="#f03030"/>
</g>
</svg>
</body></html>
